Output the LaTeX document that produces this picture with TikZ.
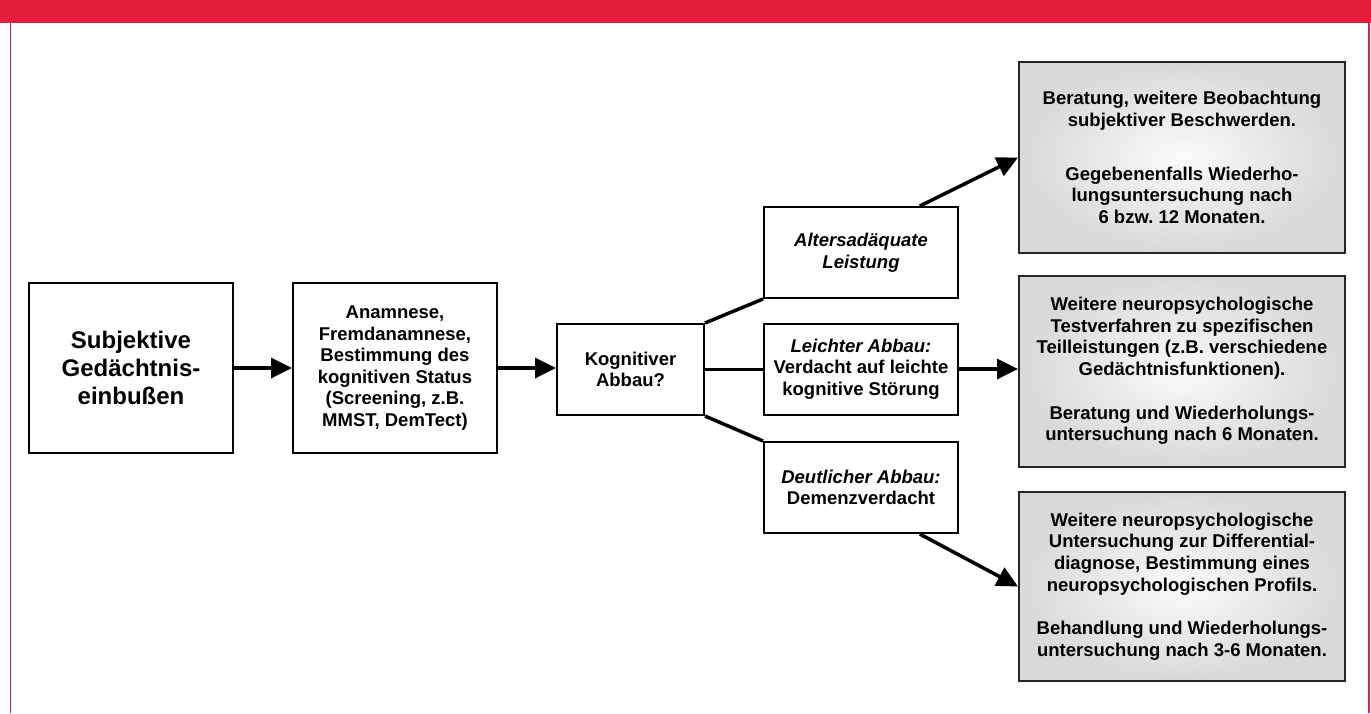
\documentclass[tikz,border=0pt]{standalone}
\usepackage{fontspec}
\setmainfont{Liberation Sans}
\usetikzlibrary{arrows.meta, calc}
\definecolor{headred}{RGB}{228,30,60}
\tikzstyle{frame} = [draw=headred, line width=1.5pt]
\tikzstyle{startbox} = [rectangle, minimum width=204pt, minimum height=170pt, inner sep=0pt, align=center, draw=black, line width=2pt, font=\bfseries\fontsize{24}{28}\selectfont]
\tikzstyle{layer1} = [rectangle, minimum width=204pt, minimum height=170pt, inner sep=0pt, align=center, draw=black, line width=2pt, font=\bfseries\fontsize{18.5}{21.6}\selectfont]
\tikzstyle{layer2} = [rectangle, minimum width=147pt, minimum height=91pt, inner sep=0pt, align=center, draw=black, line width=2pt, font=\bfseries\fontsize{18.5}{21.6}\selectfont]
\tikzstyle{layer3} = [rectangle, minimum width=194pt, minimum height=91pt, inner sep=0pt, align=center, draw=black, line width=2pt, font=\bfseries\fontsize{18.5}{21.6}\selectfont]
\tikzstyle{result} = [rectangle, minimum width=326pt, minimum height=191pt, inner sep=0pt, align=center, draw=black!85, line width=2pt, shading=radial, inner color=gray!4, outer color=gray!30, font=\bfseries\fontsize{18.5}{21.6}\selectfont]
\tikzstyle{branch} = [line width=3.5pt]
\tikzstyle{arrow} = [line width=3.5pt, -{Triangle[length=21pt,width=20pt]}]

\begin{document}
\begin{tikzpicture}[x=1pt, y=-1pt]
    \useasboundingbox (0,0) rectangle (1371,713);
    \fill [headred] (0,0) rectangle (1371,23);
    \draw [frame] (10.5,23) -- (10.5,713);
    \draw [frame] (1369,23) -- (1369,713);

    \node (start) [startbox] at (131,368) {Subjektive\\Gedächtnis-\\einbußen};
    \node (anamnese) [layer1] at (395,368) {Anamnese,\\Fremdanamnese,\\Bestimmung des\\kognitiven Status\\(Screening, z.B.\\MMST, DemTect)};
    \node (abbau) [layer2] at (630.5,369.5) {Kognitiver\\Abbau?};

    \node (alters) [layer3] at (861,252.5) {\textit{Altersadäquate}\\\textit{Leistung}};
    \node (leicht) [layer3] at (861,369) {\textit{Leichter Abbau:}\\Verdacht auf leichte\\kognitive Störung};
    \node (deutlich) [layer3] at (861,487.5) {\textit{Deutlicher Abbau:}\\Demenzverdacht};

    \node (r2-result) [result, right of=leicht, node distance=321pt, yshift=-2pt] {Weitere neuropsychologische\\Testverfahren zu spezifischen\\Teilleistungen (z.B. verschiedene\\Gedächtnisfunktionen).\\[22pt]Beratung und Wiederholungs-\\untersuchung nach 6 Monaten.};
    \node (r1-result) [result, above of=r2-result, node distance=213.5pt] {Beratung, weitere Beobachtung\\subjektiver Beschwerden.\\[32pt]Gegebenenfalls Wiederho-\\lungsuntersuchung nach\\6 bzw.\ 12 Monaten.};
    \node (r3-result) [result, below of=r2-result, node distance=215.5pt, minimum height=189pt] {Weitere neuropsychologische\\Untersuchung zur Differential-\\diagnose, Bestimmung eines\\neuropsychologischen Profils.\\[22pt]Behandlung und Wiederholungs-\\untersuchung nach 3-6 Monaten.};

    \draw [arrow] (start) -- (anamnese);
    \draw [arrow] (anamnese) -- (anamnese -| abbau.west);

    \draw [branch] (abbau.north east) -- (alters.south west);
    \draw [branch] (abbau.east) -- (abbau.east -| leicht.west);
    \draw [branch] (abbau.south east) -- (deutlich.north west);

    \draw [arrow] ($(alters.north west)!0.8!(alters.north east)$) -- (r1-result.west);
    \draw [arrow] (leicht.east) -- (leicht.east -| r2-result.west);
    \draw [arrow] ($(deutlich.south west)!0.8!(deutlich.south east)$) -- (r3-result.west);
\end{tikzpicture}
\end{document}
